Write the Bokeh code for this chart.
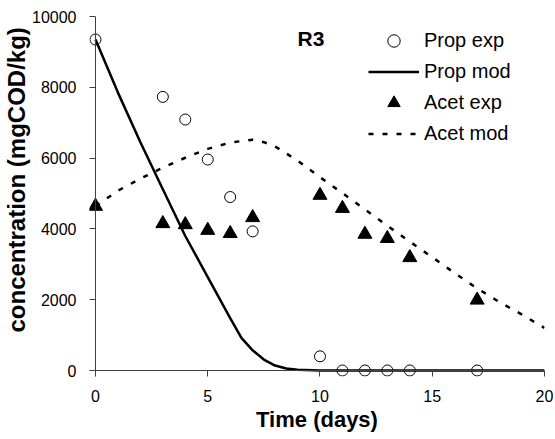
from bokeh.plotting import figure
from bokeh.models import Range1d, FixedTicker, Legend, LegendItem, Label, Span, Title
from bokeh.embed import file_html
from bokeh.resources import INLINE

# ---- data ----
t_exp = [0, 3, 4, 5, 6, 7, 10, 11, 12, 13, 14, 17]
prop_exp = [9350, 7730, 7090, 5960, 4900, 3930, 400, 0, 0, 0, 0, 0]
acet_exp = [4640, 4150, 4120, 3960, 3870, 4320, 4950, 4580, 3850, 3730, 3190, 1990]

t_prop_mod = [0, 1, 2, 3, 4, 5, 6, 6.5, 7, 7.5, 8, 8.5, 9, 10, 12, 14, 16, 18, 20]
prop_mod = [9350, 7850, 6450, 5120, 3800, 2640, 1480, 920, 570, 310, 140, 55, 20, 0, 0, 0, 0, 0, 0]

t_acet_mod = [0, 1, 2, 3, 4, 5, 6, 7, 7.5, 8, 9, 10, 11, 12, 13, 14, 15, 16, 17, 18, 19, 20]
acet_mod = [4640, 5080, 5420, 5730, 6010, 6260, 6440, 6520, 6450, 6330, 5930, 5460, 5010,
            4550, 4090, 3640, 3200, 2750, 2320, 1930, 1580, 1200]

x_ticks = [0, 5, 10, 15, 20]
y_ticks = [0, 2000, 4000, 6000, 8000, 10000]
labels = ["Prop exp", "Prop mod", "Acet exp", "Acet mod"]

# ---- layout ----
W, H = 555, 439
BL, BR, BT, BB = 88, 11, 16, 63
PAD = 6
frame_w = W - BL - BR
frame_h = H - BT - BB
x_pad = 20 * PAD / (frame_w - PAD)
y_pad = 10000 * PAD / (frame_h - PAD)

FONT = "Liberation Sans"
AX = "#404040"

p = figure(width=W, height=H, output_backend="svg", toolbar_location=None,
           x_range=Range1d(-x_pad, 20), y_range=Range1d(-y_pad, 10000),
           min_border_left=BL, min_border_right=BR, min_border_top=BT, min_border_bottom=BB)
p.outline_line_color = None
p.grid.visible = False
p.background_fill_color = "white"

for ax in (p.xaxis[0], p.yaxis[0]):
    ax.axis_line_color = None
    ax.major_tick_in = PAD
    ax.major_tick_out = 0
    ax.major_tick_line_color = AX
    ax.minor_tick_line_color = None
    ax.major_label_text_font = FONT
    ax.major_label_text_font_size = "16px"
    ax.major_label_text_color = "black"
p.xaxis[0].ticker = FixedTicker(ticks=x_ticks)
p.yaxis[0].ticker = FixedTicker(ticks=y_ticks)
p.xaxis[0].major_label_standoff = 13
p.yaxis[0].major_label_standoff = 13

p.xaxis[0].axis_label = "Time (days)"
p.xaxis[0].axis_label_standoff = 2
p.xaxis[0].axis_label_text_font = FONT
p.xaxis[0].axis_label_text_font_size = "22px"
p.xaxis[0].axis_label_text_font_style = "bold"
p.xaxis[0].axis_label_text_color = "black"

p.add_layout(Title(text="concentration (mgCOD/kg)", align="left", offset=44, standoff=0,
                   vertical_align="bottom", text_font=FONT, text_font_size="24px",
                   text_font_style="bold", text_color="black"), "left")

p.add_layout(Span(location=0, dimension="height", line_color=AX, line_width=1))
p.add_layout(Span(location=0, dimension="width", line_color=AX, line_width=1))

r1 = p.scatter(t_exp, prop_exp, marker="circle", size=11, fill_color=None,
               line_color="black", line_width=1)
r3 = p.scatter(t_exp, acet_exp, marker="triangle", size=14, fill_color="black",
               line_color="black")
r2 = p.line(t_prop_mod, prop_mod, line_color="black", line_width=2.5)
r4 = p.line(t_acet_mod, acet_mod, line_color="black", line_width=2.5, line_dash="5 9")

items = [LegendItem(label=labels[0], renderers=[r1]),
         LegendItem(label=labels[1], renderers=[r2]),
         LegendItem(label=labels[2], renderers=[r3]),
         LegendItem(label=labels[3], renderers=[r4])]
leg_h = 4 * 31
leg_top = 24.5
leg = Legend(items=items, location=(367 - BL, (BT + frame_h) - (leg_top + leg_h)),
             glyph_width=51, glyph_height=31, label_height=31, spacing=0,
             padding=0, margin=0, label_standoff=5,
             border_line_color=None, background_fill_alpha=0,
             label_text_font=FONT, label_text_font_size="20px", label_text_color="black")
p.add_layout(leg)

p.add_layout(Label(x=9.6, y=9383, text="R3", text_font=FONT, text_font_size="21px",
                   text_font_style="bold", text_align="center", text_baseline="alphabetic",
                   text_color="black"))

open("out.html", "w").write(file_html(p, INLINE))
